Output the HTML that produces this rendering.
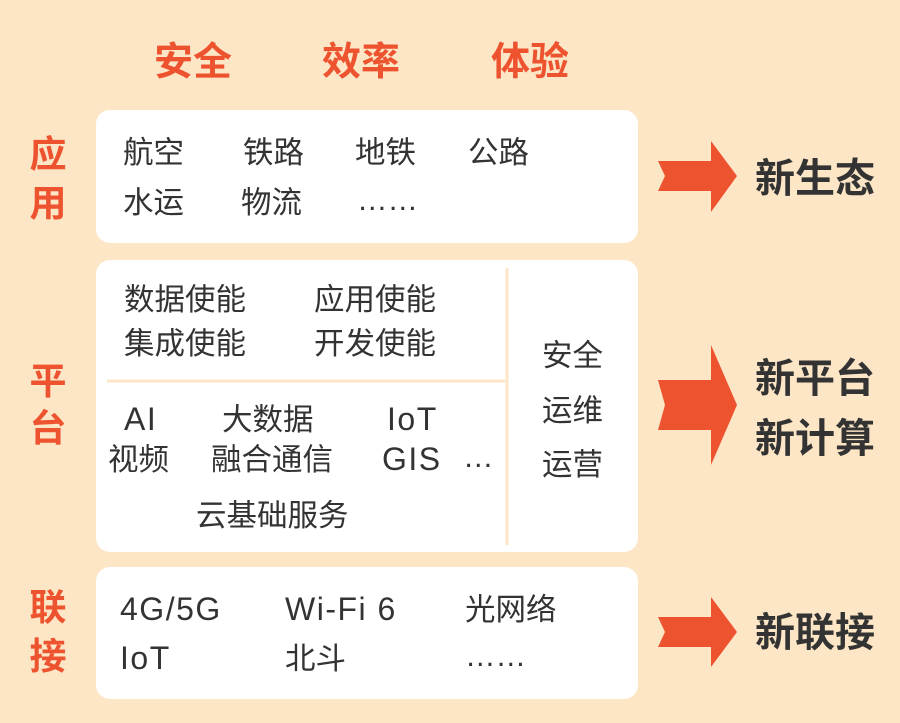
<!DOCTYPE html>
<html><head><meta charset="utf-8"><style>
body{margin:0;background:#fde6c6;}
svg{display:block}
text{font-family:"Liberation Sans","Noto Sans CJK SC",sans-serif;}
.o{fill:#ee5330;font-weight:bold;font-size:39px}
.l{fill:#ee5330;font-weight:bold;font-size:37px}
.t{fill:#333;font-size:30.5px}
.e{fill:#333;font-size:32px;letter-spacing:1.5px}
.r{fill:#333;font-weight:bold;font-size:40px}
</style></head><body>
<svg width="900" height="723" viewBox="0 0 900 723" xmlns="http://www.w3.org/2000/svg">
<rect width="900" height="723" fill="#fde6c6"/>
<text class="o" x="193" y="75" text-anchor="middle">安全</text>
<text class="o" x="361" y="75" text-anchor="middle">效率</text>
<text class="o" x="530" y="75" text-anchor="middle">体验</text>

<text class="l" x="48" y="167" text-anchor="middle">应</text>
<text class="l" x="48" y="216" text-anchor="middle">用</text>
<text class="l" x="48" y="394" text-anchor="middle">平</text>
<text class="l" x="48" y="441" text-anchor="middle">台</text>
<text class="l" x="48" y="620" text-anchor="middle">联</text>
<text class="l" x="48" y="669" text-anchor="middle">接</text>

<rect x="96" y="110" width="542" height="133" rx="14" fill="#fff"/>
<rect x="96" y="260" width="542" height="292" rx="14" fill="#fff"/>
<rect x="96" y="567" width="542" height="132" rx="14" fill="#fff"/>
<line x1="507" y1="268" x2="507" y2="545" stroke="#fde6c6" stroke-width="3"/>
<line x1="107" y1="381" x2="505" y2="381" stroke="#fde6c6" stroke-width="3"/>

<g class="t">
<text x="123" y="163">航空</text><text x="243" y="163">铁路</text><text x="355" y="163">地铁</text><text x="468" y="163">公路</text>
<text x="123" y="213">水运</text><text x="241" y="213">物流</text><text x="357" y="210">……</text>
<text x="124" y="310">数据使能</text><text x="314" y="310">应用使能</text>
<text x="124" y="354">集成使能</text><text x="314" y="354">开发使能</text>
<text x="222" y="430">大数据</text>
<text x="108" y="470">视频</text><text x="211" y="470">融合通信</text><text x="463" y="467">…</text>
<text x="196" y="526">云基础服务</text>
<text x="542" y="366">安全</text><text x="542" y="421">运维</text><text x="542" y="475">运营</text>
<text x="465" y="620">光网络</text>
<text x="285" y="669">北斗</text><text x="465" y="666">……</text>
</g>
<g class="e">
<text x="124" y="430">AI</text><text x="387" y="430">IoT</text><text x="382" y="470">GIS</text>
<text x="120" y="620">4G/5G</text><text x="285" y="620">Wi-Fi 6</text>
<text x="120" y="669">IoT</text>
</g>

<g fill="#ee5330">
<polygon points="658,161 711,161 711,141 737,176 711,212 711,191 658,191 665,176"/>
<polygon points="658,380 711,380 711,345 737,405 711,465 711,430 658,430 665,405"/>
<polygon points="658,617 711,617 711,597 737,632 711,667 711,647 658,647 665,632"/>
</g>

<text class="r" x="755" y="192">新生态</text>
<text class="r" x="755" y="392">新平台</text>
<text class="r" x="755" y="452">新计算</text>
<text class="r" x="755" y="646">新联接</text>
</svg>
</body></html>
